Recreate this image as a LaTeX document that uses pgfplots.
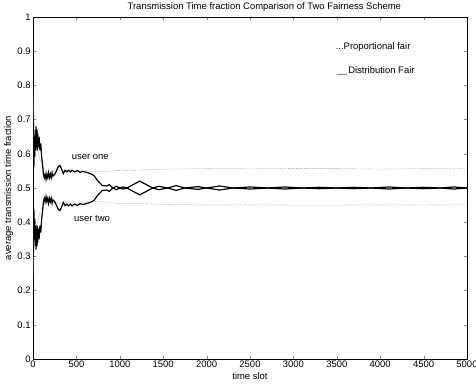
\documentclass[border=0pt]{standalone}
\usepackage{pgfplots}
\pgfplotsset{compat=1.18}
\usepackage{fontspec}
\setmainfont{Liberation Sans}
\begin{document}
\fontsize{9.5}{11}\selectfont
\begin{tikzpicture}[x=1bp,y=1bp]
\begin{axis}[
  name=ax,
  scale only axis,
  width=434bp, height=342bp,
  xmin=0, xmax=5000, ymin=0, ymax=1,
  xtick={0,500,...,5000}, ytick={0,0.1,...,1.0},
  yticklabels={0,0.1,0.2,0.3,0.4,0.5,0.6,0.7,0.8,0.9,1},
  scaled x ticks=false,
  /pgf/number format/1000 sep={},
  tick align=inside, tick pos=both,
  major tick length=3bp,
  axis line style={line width=0.9pt},
  /pgf/number format/assume math mode=true,
  tick label style={font=\fontsize{9.5}{11}\selectfont},
  xticklabel style={yshift=1bp},
  yticklabel style={xshift=1bp},
  xlabel={time slot}, ylabel={average transmission time fraction},
  xlabel style={yshift=2bp},
  ylabel style={yshift=-2bp},
  label style={font=\fontsize{9.5}{11}\selectfont},
  title={Transmission Time fraction Comparison of Two Fairness Scheme},
  title style={at={(rel axis cs:0.533,1)}, yshift=-4bp, font=\fontsize{9.5}{11}\selectfont},
  clip=true,
]
% Proportional fair (dotted)
\addplot[gray!80, densely dotted, line width=0.6pt] coordinates {
(0,0.78)(5,0.73)(10,0.71)(15,0.69)(20,0.67)(30,0.64)(40,0.62)(50,0.61)(70,0.59)(100,0.57)(130,0.555)(160,0.545)(200,0.545)(250,0.55)(300,0.553)(350,0.548)(400,0.548)(500,0.552)(600,0.552)(700,0.548)(800,0.548)(900,0.55)(1000,0.552)(1200,0.552)(1500,0.555)(1800,0.556)(2000,0.557)(2500,0.556)(3000,0.557)(3500,0.557)(4000,0.555)(4500,0.557)(5000,0.556)};
\addplot[gray!80, densely dotted, line width=0.6pt] coordinates {
(0,0.25)(5,0.28)(10,0.30)(15,0.32)(20,0.34)(30,0.37)(40,0.39)(50,0.40)(70,0.42)(100,0.44)(130,0.452)(160,0.462)(200,0.462)(250,0.458)(300,0.455)(350,0.46)(400,0.46)(500,0.456)(600,0.456)(700,0.46)(800,0.46)(900,0.457)(1000,0.455)(1200,0.455)(1500,0.452)(1800,0.451)(2000,0.45)(2500,0.451)(3000,0.45)(3500,0.45)(4000,0.451)(4500,0.45)(5000,0.451)};
% Distribution fair (solid)
\addplot[black, line width=1.2pt] coordinates {
(0,0.50)(5,0.61)(10,0.56)(15,0.65)(20,0.59)(25,0.67)(30,0.61)(35,0.68)(40,0.62)(45,0.67)(50,0.61)(55,0.66)(60,0.62)(70,0.65)(80,0.61)(90,0.63)(100,0.59)(110,0.57)(120,0.54)(130,0.53)(140,0.54)(150,0.525)(160,0.54)(170,0.53)(180,0.545)(190,0.53)(200,0.54)(210,0.53)(220,0.545)(230,0.535)(250,0.54)(270,0.55)(290,0.562)(310,0.566)(330,0.555)(350,0.542)(370,0.552)(390,0.547)(410,0.552)(430,0.547)(450,0.552)(480,0.547)(510,0.551)(540,0.546)(570,0.548)(600,0.547)(650,0.543)(700,0.537)(750,0.52)(800,0.507)(850,0.506)(880,0.51)(920,0.50)(960,0.505)(1000,0.50)(1040,0.503)(1080,0.50)(1230,0.52)(1380,0.50)(1450,0.505)(1550,0.50)(1650,0.507)(1750,0.50)(1900,0.504)(2000,0.50)(2150,0.506)(2300,0.50)(2500,0.503)(2700,0.50)(2900,0.503)(3100,0.50)(3300,0.502)(3500,0.50)(3700,0.502)(3900,0.50)(4100,0.503)(4300,0.50)(4500,0.502)(4700,0.50)(4850,0.503)(5000,0.50)};
\addplot[black, line width=1.2pt] coordinates {
(0,0.50)(5,0.39)(10,0.44)(15,0.35)(20,0.41)(25,0.33)(30,0.39)(35,0.32)(40,0.38)(45,0.33)(50,0.39)(55,0.34)(60,0.38)(70,0.35)(80,0.39)(90,0.37)(100,0.41)(110,0.43)(120,0.46)(130,0.47)(140,0.46)(150,0.475)(160,0.46)(170,0.47)(180,0.455)(190,0.47)(200,0.46)(210,0.47)(220,0.455)(230,0.465)(250,0.46)(270,0.45)(290,0.438)(310,0.434)(330,0.445)(350,0.458)(370,0.448)(390,0.453)(410,0.448)(430,0.453)(450,0.448)(480,0.453)(510,0.449)(540,0.454)(570,0.452)(600,0.453)(650,0.457)(700,0.463)(750,0.48)(800,0.493)(850,0.494)(880,0.49)(920,0.50)(960,0.495)(1000,0.50)(1040,0.497)(1080,0.50)(1230,0.48)(1380,0.50)(1450,0.495)(1550,0.50)(1650,0.493)(1750,0.50)(1900,0.496)(2000,0.50)(2150,0.494)(2300,0.50)(2500,0.497)(2700,0.50)(2900,0.497)(3100,0.50)(3300,0.498)(3500,0.50)(3700,0.498)(3900,0.50)(4100,0.497)(4300,0.50)(4500,0.498)(4700,0.50)(4850,0.497)(5000,0.50)};
\node[anchor=west, font=\fontsize{9.5}{11}\selectfont] at (axis cs:3450,0.913) {...Proportional fair};
\node[anchor=west, font=\fontsize{9.5}{11}\selectfont, inner sep=0pt] (df) at (axis cs:3630,0.845) {Distribution Fair};
\draw[gray, line width=0.6pt] ([xshift=-11bp,yshift=-1bp]df.south west) -- ([xshift=-1bp,yshift=-1bp]df.south west);
\node[font=\fontsize{9.5}{11}\selectfont] at (axis cs:660,0.59) {user one};
\node[font=\fontsize{9.5}{11}\selectfont] at (axis cs:680,0.41) {user two};
\end{axis}
\pgfresetboundingbox
\path ([shift={(-33bp,-28bp)}]ax.south west) rectangle ([shift={(9bp,17bp)}]ax.north east);
\end{tikzpicture}
\end{document}
